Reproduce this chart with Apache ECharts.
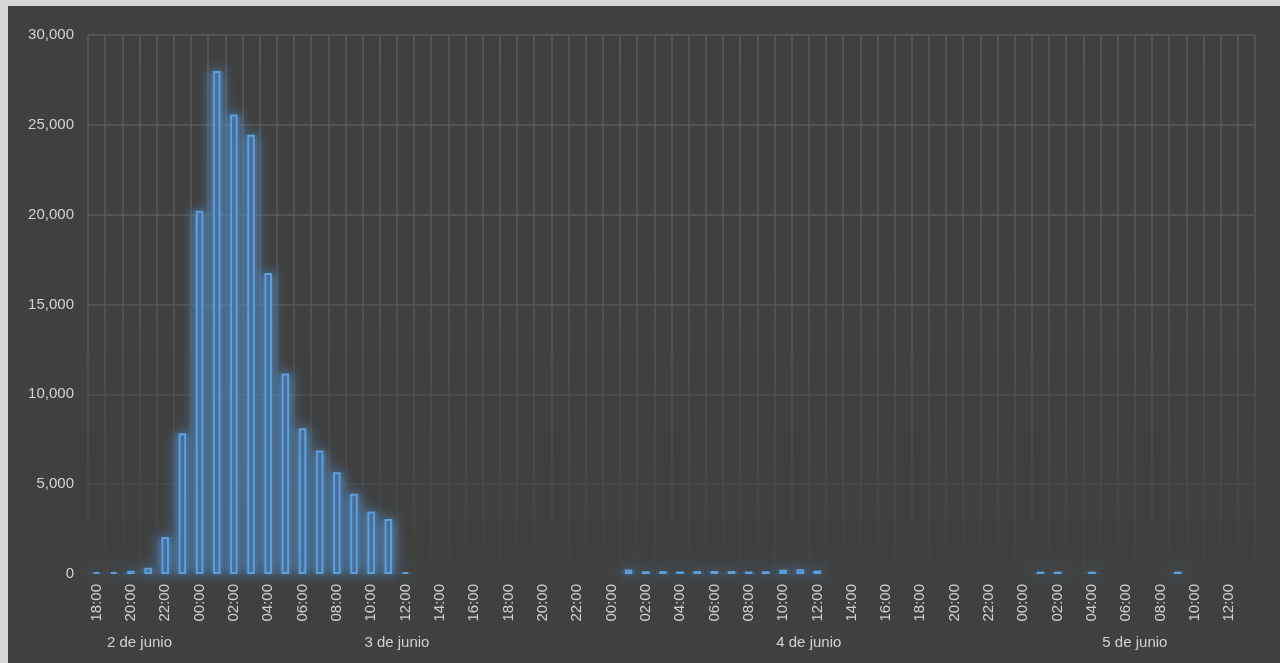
<!DOCTYPE html>
<html>
<head>
<meta charset="utf-8">
<script src="https://cdn.jsdelivr.net/npm/echarts@6/dist/echarts.min.js"></script>
<style>
  html, body { margin: 0; padding: 0; width: 1280px; height: 663px; background: #d6d6d6; overflow: hidden; }
  #chart { position: absolute; left: 8px; top: 6px; width: 1272px; height: 657px; background: #404040; }
</style>
</head>
<body>
<div id="chart"></div>
<script>
// Hourly categories: 2 junio 18:00 -> 5 junio 13:00
const hours = [
  '18:00','19:00','20:00','21:00','22:00','23:00',
  '00:00','01:00','02:00','03:00','04:00','05:00','06:00','07:00','08:00','09:00','10:00','11:00',
  '12:00','13:00','14:00','15:00','16:00','17:00','18:00','19:00','20:00','21:00','22:00','23:00',
  '00:00','01:00','02:00','03:00','04:00','05:00','06:00','07:00','08:00','09:00','10:00','11:00',
  '12:00','13:00','14:00','15:00','16:00','17:00','18:00','19:00','20:00','21:00','22:00','23:00',
  '00:00','01:00','02:00','03:00','04:00','05:00','06:00','07:00','08:00','09:00','10:00','11:00',
  '12:00','13:00'
];
// Day groups and how many hourly categories each covers
const days = ['2 de junio', '3 de junio', '4 de junio', '5 de junio'];
const dayCounts = [6, 24, 24, 14];

const values = [
  100, 100, 180, 350, 2060, 7840,
  20220, 28000, 25580, 24450, 16760, 11160, 8110, 6870, 5670, 4460, 3480, 3060,
  100, null, null, null, null, null, null, null, null, null, null, null,
  null, 250, 150, 160, 140, 160, 170, 160, 140, 150, 240, 260,
  190, null, null, null, null, null, null, null, null, null, null, null,
  null, 130, 130, null, 130, null, null, null, null, 130, null, null,
  null, null
];

const yTicks = { min: 0, max: 30000, interval: 5000 };

// midpoints of day groups on a 0..N value scale
const dayMid = [];
let acc = 0;
dayCounts.forEach(c => { dayMid.push(acc + c / 2); acc += c; });

const labelColor = '#d2d2d2';
const font = 'Liberation Sans, Arial, sans-serif';

const gridGrad = new echarts.graphic.LinearGradient(0, 29, 0, 570, [
  { offset: 0, color: '#5c5c5c' },
  { offset: 0.5, color: '#575757' },
  { offset: 0.8, color: '#4a4a4a' },
  { offset: 1, color: '#424242' }
], true);

const chart = echarts.init(document.getElementById('chart'));
chart.setOption({
  backgroundColor: '#404040',
  animation: false,
  grid: { left: 80, right: 25, top: 29, bottom: 89, containLabel: false },
  xAxis: [
    {
      type: 'category',
      data: hours,
      boundaryGap: true,
      axisLine: { show: false },
      axisTick: { show: false },
      axisLabel: {
        interval: 1, rotate: 90, margin: 10,
        color: labelColor, fontSize: 15, fontFamily: font
      },
      splitLine: { show: true, interval: 0, lineStyle: { color: gridGrad, width: 1.5 } }
    },
    {
      type: 'value',
      position: 'bottom',
      min: 0,
      max: hours.length,
      axisLine: { show: false },
      axisTick: { show: false },
      splitLine: { show: false },
      axisLabel: {
        customValues: dayMid,
        margin: 61,
        color: labelColor, fontSize: 15, fontFamily: font,
        formatter: v => days[dayMid.indexOf(v)] || ''
      }
    },
    {
      // hidden twin axis used only for the soft glow layer
      type: 'category',
      data: hours,
      show: false
    }
  ],
  yAxis: {
    type: 'value',
    min: yTicks.min, max: yTicks.max, interval: yTicks.interval,
    axisLine: { show: false },
    axisTick: { show: false },
    axisLabel: {
      margin: 14, color: labelColor, fontSize: 15, fontFamily: font,
      formatter: v => v.toLocaleString('en-US')
    },
    splitLine: { show: true, lineStyle: { color: gridGrad, width: 1.5 } }
  },
  series: [
    {
      type: 'bar',
      xAxisIndex: 2,
      data: values,
      barWidth: '80%',
      z: 1,
      silent: true,
      itemStyle: {
        color: 'rgba(84,150,215,0.14)',
        shadowBlur: 8,
        shadowColor: 'rgba(84,150,215,0.5)'
      }
    },
    {
      type: 'bar',
      xAxisIndex: 0,
      data: values,
      barWidth: '44%',
      z: 2,
      itemStyle: {
        color: '#44648a',
        borderColor: '#5ea0dc',
        borderWidth: 2,
        shadowBlur: 14,
        shadowColor: 'rgba(84,150,215,1)'
      }
    }
  ]
});
</script>
</body>
</html>
